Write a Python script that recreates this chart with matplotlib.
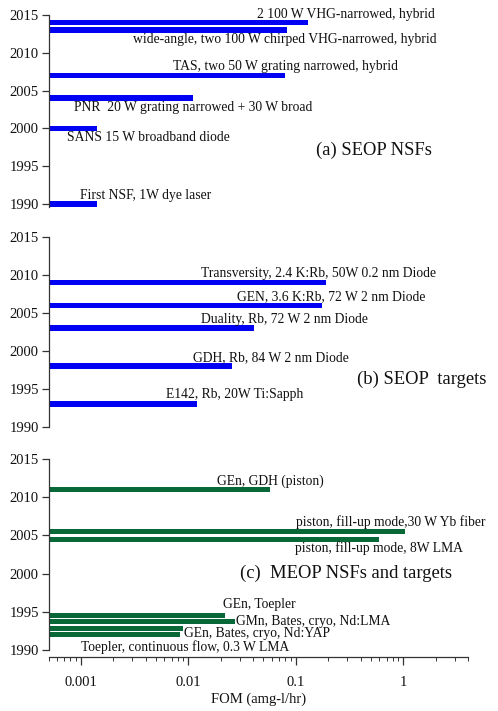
import matplotlib
matplotlib.use("Agg")
import matplotlib.pyplot as plt
from matplotlib.ticker import FixedLocator, FuncFormatter, LogLocator, NullFormatter

plt.rcParams['font.family'] = ['Liberation Serif', 'DejaVu Serif']

# ---- data ----
seop_nsf_years = [2014, 2013, 2007, 2004, 2000, 1990]
seop_nsf_fom = [0.13, 0.082, 0.08, 0.011, 0.0014, 0.0014]
seop_nsf_labels = ["2 100 W VHG-narrowed, hybrid",
                   "wide-angle, two 100 W chirped VHG-narrowed, hybrid",
                   "TAS, two 50 W grating narrowed, hybrid",
                   "PNR  20 W grating narrowed + 30 W broad",
                   "SANS 15 W broadband diode",
                   "First NSF, 1W dye laser"]

seop_target_years = [2009, 2006, 2003, 1998, 1993]
seop_target_fom = [0.19, 0.175, 0.041, 0.0255, 0.012]
seop_target_labels = ["Transversity, 2.4 K:Rb, 50W 0.2 nm Diode",
                      "GEN, 3.6 K:Rb, 72 W 2 nm Diode",
                      "Duality, Rb, 72 W 2 nm Diode",
                      "GDH, Rb, 84 W 2 nm Diode",
                      "E142, Rb, 20W Ti:Sapph"]

meop_years = [2011, 2005.5, 2004.5, 1994.55, 1993.7, 1992.85, 1992.0]
meop_fom = [0.058, 1.03, 0.6, 0.022, 0.027, 0.0089, 0.0083]
meop_labels = ["GEn, GDH (piston)",
               "piston, fill-up mode,30 W Yb fiber",
               "piston, fill-up mode, 8W LMA",
               "GEn, Toepler",
               "GMn, Bates, cryo, Nd:LMA",
               "GEn, Bates, cryo, Nd:YAP",
               "Toepler, continuous flow, 0.3 W LMA"]

panel_titles = ["(a) SEOP NSFs", "(b) SEOP  targets", "(c)  MEOP NSFs and targets"]
year_ticks = [1990, 1995, 2000, 2005, 2010, 2015]
fom_ticks = [0.001, 0.01, 0.1, 1]
fom_tick_labels = ["0.001", "0.01", "0.1", "1"]

# ---- layout (label anchor positions: x in FOM, y in year) ----
XMIN, XMAX = 0.0005, 4.0
label_pos_a = [(0.0433, 2015.13), (0.00307, 2011.8), (0.00723, 2008.16),
               (0.00086, 2002.74), (0.00075, 1998.77), (0.00098, 1991.1)]
label_pos_b = [(0.01315, 2010.22), (0.0284, 2007.15), (0.01315, 2004.17),
               (0.0111, 1999.12), (0.00614, 1994.25)]
label_pos_c = [(0.0183, 2012.03), (0.1, 2006.8), (0.098, 2003.3),
               (0.0208, 1995.9), (0.0275, 1993.7), (0.0092, 1992.2),
               (0.001, 1990.35)]
title_pos = [(0.153, 1997.05), (0.367, 1996.27), (0.0301, 2000.07)]
bar_heights = [0.75, 0.75, 0.68]

BLUE = '#0000F2'
GREEN = '#086838'

W, H = 498, 711
fig = plt.figure(figsize=(W / 100, H / 100), dpi=100)

left = 48.5 / W
width = (468 - 48.5) / W

def frac(ypx):
    return 1 - ypx / H

# panel pixel geometry: (y of 2015, y of 1990)
geoms = [(15, 204), (237, 427), (459, 650)]
ylo = [1989.4, 1989.4, 1989.08]
spine_lo = [1989.6, 1990, 1990]

panels = [
    (seop_nsf_years, seop_nsf_fom, seop_nsf_labels, label_pos_a, BLUE),
    (seop_target_years, seop_target_fom, seop_target_labels, label_pos_b, BLUE),
    (meop_years, meop_fom, meop_labels, label_pos_c, GREEN),
]

LABEL_FS = 9.85
TITLE_FS = 13.4
for i, ((ytop, ybot), (yrs, fom, labs, lpos, col)) in enumerate(zip(geoms, panels)):
    ppy = (ybot - ytop) / 25.0
    bot_px = ybot + (1990 - ylo[i]) * ppy
    ax = fig.add_axes([left, frac(bot_px), width, (bot_px - ytop) / H])
    ax.set_xscale('log')
    ax.set_xlim(XMIN, XMAX)
    ax.set_ylim(ylo[i], 2015)
    ax.barh(yrs, [f - XMIN for f in fom], left=XMIN, height=bar_heights[i],
            color=col, linewidth=0)
    for lab, (lx, ly) in zip(labs, lpos):
        ax.text(lx, ly, lab, fontsize=LABEL_FS, ha='left', va='center', color='#111111')
    tx, ty = title_pos[i]
    ax.text(tx, ty, panel_titles[i], fontsize=TITLE_FS, ha='left', va='center', color='#111111')
    for s in ['top', 'right']:
        ax.spines[s].set_visible(False)
    ax.spines['left'].set_bounds(spine_lo[i], 2015)
    ax.spines['left'].set_color('#333333')
    ax.spines['left'].set_linewidth(0.9)
    ax.set_yticks(year_ticks)
    ax.tick_params(axis='y', direction='out', length=5, width=0.9, colors='#333333',
                   labelsize=10.5, labelcolor='#111111', pad=2)
    if i < 2:
        ax.spines['bottom'].set_visible(False)
        ax.tick_params(axis='x', which='both', bottom=False, labelbottom=False)
    else:
        ax.spines['bottom'].set_color('#333333')
        ax.spines['bottom'].set_linewidth(0.9)
        ax.xaxis.set_major_locator(FixedLocator(fom_ticks))
        ax.xaxis.set_major_formatter(FuncFormatter(
            lambda v, p: dict(zip(fom_ticks, fom_tick_labels)).get(v, "")))
        ax.xaxis.set_minor_locator(LogLocator(base=10, subs=range(2, 10)))
        ax.xaxis.set_minor_formatter(NullFormatter())
        ax.tick_params(axis='x', which='major', direction='out', length=6, width=0.9,
                       colors='#333333', labelsize=10.5, labelcolor='#111111', pad=8)
        ax.tick_params(axis='x', which='minor', direction='out', length=3, width=0.7,
                       colors='#333333')
        ax.set_xlabel("FOM (amg-l/hr)", fontsize=10.5, color='#111111', labelpad=2)

fig.savefig("out.png", dpi=100)
